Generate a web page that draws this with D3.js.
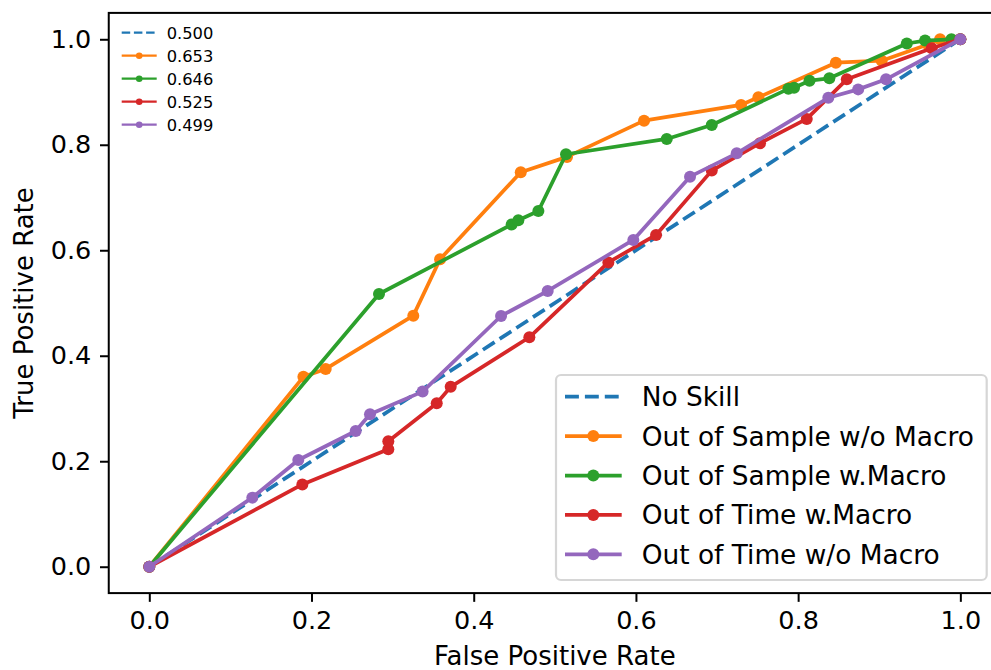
<!DOCTYPE html>
<html>
<head>
<meta charset="utf-8">
<script src="https://cdn.jsdelivr.net/npm/d3@7"></script>
<style>
  body { margin: 0; background: #fff; }
  svg { display: block; font-family: "DejaVu Sans", sans-serif; }
</style>
</head>
<body>
<svg width="991" height="670"></svg>
<script>
// ROC curves
var noSkillFpr = [0, 1];
var noSkillTpr = [0, 1];

var oosNoMacroFpr = [0, 0.190, 0.2175, 0.3255, 0.3585, 0.458, 0.515, 0.610, 0.7296, 0.751, 0.8465, 0.903, 0.960, 0.975, 1];
var oosNoMacroTpr = [0, 0.360, 0.375, 0.476, 0.583, 0.748, 0.777, 0.8457, 0.8755, 0.890, 0.9556, 0.9594, 0.990, 1.0, 1];

var oosMacroFpr = [0, 0.2832, 0.4468, 0.455, 0.4797, 0.5138, 0.638, 0.6935, 0.788, 0.795, 0.814, 0.8385, 0.934, 0.9565, 0.989, 1];
var oosMacroTpr = [0, 0.517, 0.649, 0.657, 0.6745, 0.782, 0.811, 0.8375, 0.906, 0.908, 0.9215, 0.926, 0.992, 0.9975, 1.0, 1];

var ootMacroFpr = [0, 0.1887, 0.2947, 0.2947, 0.3544, 0.3716, 0.4686, 0.566, 0.6248, 0.6935, 0.753, 0.8106, 0.860, 0.9647, 1];
var ootMacroTpr = [0, 0.156, 0.2226, 0.238, 0.310, 0.341, 0.435, 0.577, 0.629, 0.751, 0.803, 0.849, 0.924, 0.983, 1];

var ootNoMacroFpr = [0, 0.127, 0.1837, 0.2545, 0.2721, 0.337, 0.4337, 0.4912, 0.5968, 0.6667, 0.7243, 0.8372, 0.874, 0.9084, 1];
var ootNoMacroTpr = [0, 0.131, 0.2023, 0.2573, 0.289, 0.332, 0.4754, 0.5228, 0.6195, 0.7395, 0.7838, 0.889, 0.905, 0.924, 1];

var seriesNames = ["No Skill", "Out of Sample w/o Macro", "Out of Sample w.Macro", "Out of Time w.Macro", "Out of Time w/o Macro"];
var aucLabels = ["0.500", "0.653", "0.646", "0.525", "0.499"];
var colors = ["#1f77b4", "#ff7f0e", "#2ca02c", "#d62728", "#9467bd"];
var tickValues = [0, 0.2, 0.4, 0.6, 0.8, 1.0];

function main() {
  var fprs = [noSkillFpr, oosNoMacroFpr, oosMacroFpr, ootMacroFpr, ootNoMacroFpr];
  var tprs = [noSkillTpr, oosNoMacroTpr, oosMacroTpr, ootMacroTpr, ootNoMacroTpr];
  var series = fprs.map(function(f, i) {
    return {
      name: seriesNames[i],
      auc: aucLabels[i],
      color: colors[i],
      dashed: i === 0,
      points: f.map(function(v, j) { return {x: v, y: tprs[i][j]}; })
    };
  });

  var svg = d3.select("svg");
  var m = {left: 108.75, right: 1000.9, top: 12.9, bottom: 593.1};

  var x = d3.scaleLinear().domain([-0.05, 1.05]).range([m.left, m.right]);
  var y = d3.scaleLinear().domain([-0.05, 1.05]).range([m.bottom, m.top]);

  var lw = 3.75, r = 6;

  // curves
  var line = d3.line().x(function(d) { return x(d.x); }).y(function(d) { return y(d.y); });
  var g = svg.append("g");
  series.forEach(function(s) {
    g.append("path")
      .datum(s.points)
      .attr("d", line)
      .attr("fill", "none")
      .attr("stroke", s.color)
      .attr("stroke-width", lw)
      .attr("stroke-linejoin", "round")
      .attr("stroke-dasharray", s.dashed ? "13.9,6" : null);
    if (!s.dashed) {
      g.selectAll(null)
        .data(s.points)
        .enter().append("circle")
        .attr("cx", function(d) { return x(d.x); })
        .attr("cy", function(d) { return y(d.y); })
        .attr("r", r)
        .attr("fill", s.color);
    }
  });

  // axes
  var xAxis = svg.append("g")
    .attr("transform", "translate(0," + m.bottom + ")")
    .call(d3.axisBottom(x).tickValues(tickValues).tickFormat(d3.format(".1f")).tickSize(8.75).tickPadding(8.75));
  var yAxis = svg.append("g")
    .attr("transform", "translate(" + m.left + ",0)")
    .call(d3.axisLeft(y).tickValues(tickValues).tickFormat(d3.format(".1f")).tickSize(8.75).tickPadding(8.75));
  [xAxis, yAxis].forEach(function(a) {
    a.select(".domain").remove();
    a.selectAll(".tick line").attr("stroke", "#000").attr("stroke-width", 2);
    a.selectAll(".tick text").attr("fill", "#000").style("font-size", "25.5px").style("font-family", "DejaVu Sans");
  });

  // spines
  svg.append("rect")
    .attr("x", m.left).attr("y", m.top)
    .attr("width", m.right - m.left).attr("height", m.bottom - m.top)
    .attr("fill", "none").attr("stroke", "#000").attr("stroke-width", 2);

  // axis labels
  svg.append("text")
    .attr("x", (m.left + m.right) / 2).attr("y", 665)
    .attr("text-anchor", "middle")
    .style("font-size", "26px")
    .text("False Positive Rate");
  svg.append("text")
    .attr("transform", "translate(33," + (m.top + m.bottom) / 2 + ") rotate(-90)")
    .attr("text-anchor", "middle")
    .style("font-size", "26px")
    .text("True Positive Rate");

  // small AUC legend, top left
  var small = svg.append("g");
  series.forEach(function(s, i) {
    var ry = 32.7 + i * 23;
    small.append("line")
      .attr("x1", 121.7).attr("x2", 156.7).attr("y1", ry).attr("y2", ry)
      .attr("stroke", s.color).attr("stroke-width", 2.3)
      .attr("stroke-dasharray", s.dashed ? "8.5,3.7" : null);
    if (!s.dashed) {
      small.append("circle").attr("cx", 139.2).attr("cy", ry).attr("r", 3.3).attr("fill", s.color);
    }
    small.append("text")
      .attr("x", 166.7).attr("y", ry + 6)
      .style("font-size", "16.3px")
      .text(s.auc);
  });

  // main legend, bottom right
  var leg = svg.append("g");
  leg.append("rect")
    .attr("x", 556).attr("y", 375).attr("width", 430.7).attr("height", 205)
    .attr("rx", 5).attr("fill", "#fff").attr("fill-opacity", 0.8)
    .attr("stroke", "#d6d6d6").attr("stroke-width", 2.2);
  series.forEach(function(s, i) {
    var ry = 396.7 + i * 39.4;
    leg.append("line")
      .attr("x1", 565).attr("x2", 621.7).attr("y1", ry).attr("y2", ry)
      .attr("stroke", s.color).attr("stroke-width", lw)
      .attr("stroke-dasharray", s.dashed ? "13.9,6" : null);
    if (!s.dashed) {
      leg.append("circle").attr("cx", 593.3).attr("cy", ry).attr("r", r).attr("fill", s.color);
    }
    leg.append("text")
      .attr("x", 641.7).attr("y", ry + 9.5)
      .style("font-size", "26.4px")
      .text(s.name);
  });
}

main();
</script>
</body>
</html>
